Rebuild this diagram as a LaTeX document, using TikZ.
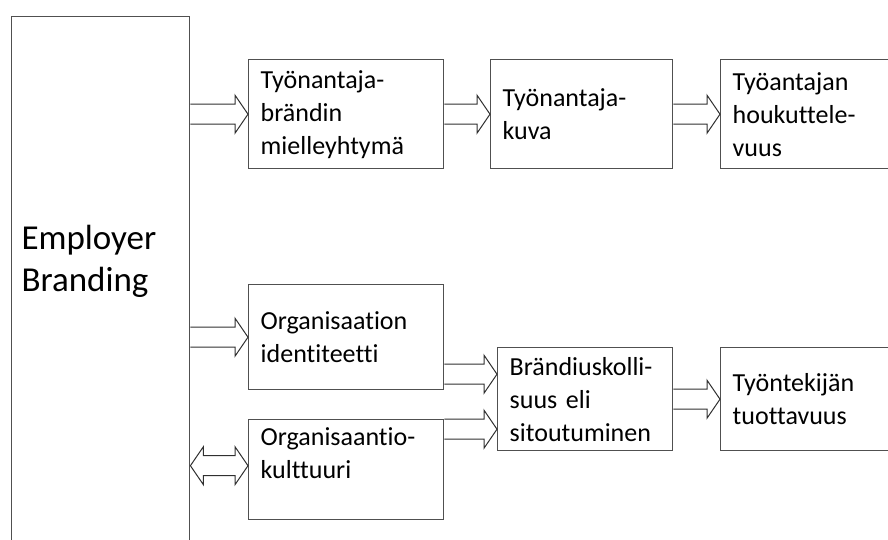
\documentclass[tikz,border=0pt]{standalone}
\usepackage{fontspec}
\setmainfont{Carlito}[Ligatures=NoCommon]
\usetikzlibrary{calc,positioning}

\definecolor{boxgray}{HTML}{505050}
\definecolor{arrgray}{HTML}{303030}

\tikzset{
  box/.style={draw=boxgray,line width=1.4pt,anchor=north west,align=left,
    inner xsep=12pt,font=\fontsize{26}{33}\selectfont},
  fatarrow/.style={draw=arrgray,line width=1pt,to path={
    let \p1=(\tikztostart), \p2=(\tikztotarget) in
    (\x1,\y1+10pt) -- (\x2-13pt,\y1+10pt) -- (\x2-13pt,\y1+19pt) -- (\x2,\y1)
    -- (\x2-13pt,\y1-19pt) -- (\x2-13pt,\y1-10pt) -- (\x1,\y1-10pt)}},
  twoarrow/.style={draw=arrgray,line width=1pt,to path={
    let \p1=(\tikztostart), \p2=(\tikztotarget) in
    (\x1,\y1) -- (\x1+13pt,\y1+19pt) -- (\x1+13pt,\y1+10pt) -- (\x2-13pt,\y1+10pt)
    -- (\x2-13pt,\y1+19pt) -- (\x2,\y1) -- (\x2-13pt,\y1-19pt) -- (\x2-13pt,\y1-10pt)
    -- (\x1+13pt,\y1-10pt) -- (\x1+13pt,\y1-19pt) -- cycle}}
}

\begin{document}
\begin{tikzpicture}[x=1pt,y=-1pt]
  \useasboundingbox (0,0) rectangle (888,540);
  \clip (0,0) rectangle (888,540);

  % left column
  \node[box,minimum width=178,minimum height=600] (EB) at (11,16) {};
  \node[anchor=west,align=left,font=\fontsize{35}{42}\selectfont] (EBtext) at (18,261) {Employer\\Branding};

  % upper row
  \node[box,minimum width=195,minimum height=109,text width=171pt] (B1) at (248,59) {Työnantaja-\\brändin\\mielleyhtymä};
  \node[box,minimum width=182,minimum height=109,text width=158pt] (B2) at (490,59) {Työnantaja-\\kuva};
  \node[box,minimum width=190,minimum height=109,text width=166pt] (B3) at (720,59) {Työantajan\\houkuttele-\\vuus};

  % lower rows
  \node[box,minimum width=195,minimum height=105,text width=171pt] (B4) at (248,284) {Organisaation\\identiteetti};
  \node[box,minimum width=195,minimum height=100,text width=171pt] (B5) at (248,419) {Organisaantio-\\kulttuuri\\~};
  \node[box,minimum width=175,minimum height=103,text width=151pt] (B6) at (497,347) {Brändiuskolli-\\suus eli\\sitoutuminen};
  \node[box,minimum width=190,minimum height=103,text width=166pt] (B7) at (720,347) {Työntekijän\\tuottavuus};

  \coordinate (in1) at ([yshift=25pt]B6.west);
  \coordinate (in2) at ([yshift=-30pt]B6.west);

  \draw[fatarrow] (EB.east |- B1.west) to (B1.west);
  \draw[fatarrow] (B1.east) to (B2.west);
  \draw[fatarrow] (B2.east) to (B3.west);
  \draw[fatarrow] (EB.east |- B4.west) to (B4.west);
  \draw[twoarrow] ([yshift=4pt]EB.east |- B5.west) to ([yshift=4pt]B5.west);
  \draw[fatarrow] (B4.east |- in1) to (in1);
  \draw[fatarrow] (B5.east |- in2) to (in2);
  \draw[fatarrow] (B6.east) to (B7.west);
\end{tikzpicture}
\end{document}
